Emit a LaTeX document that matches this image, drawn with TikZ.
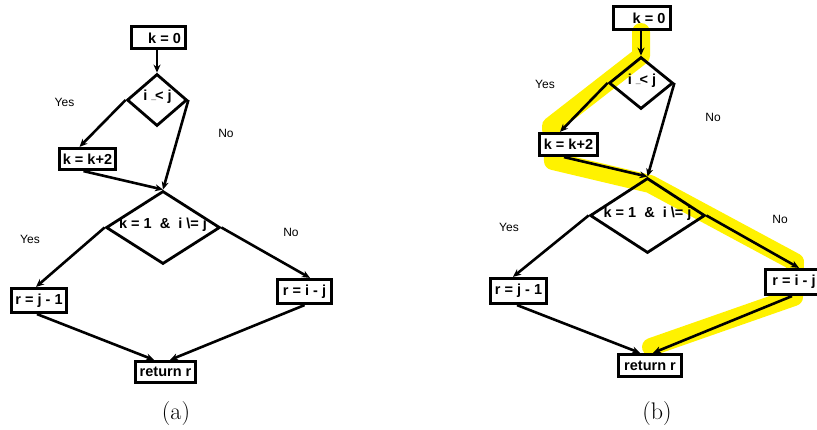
\documentclass[tikz,border=0pt]{standalone}
\usepackage{fontspec}
\usepackage{graphicx}
\newfontfamily\arialf{Liberation Sans}
\usetikzlibrary{arrows.meta,shapes.geometric}
\newcommand\ilesym{i\ \raisebox{1pt}{\scalebox{0.6}{\_}}\kern-1pt<\ j}
\newcommand\condsym{k = 1 \ \& \ i \textbackslash{}= j}
\tikzset{
  box/.style={draw=black, line width=3.2pt, fill=white, inner sep=0pt},
  dia/.style={diamond, draw=black, line width=2.8pt, inner sep=0pt},
  btxt/.style={font=\arialf\bfseries\fontsize{14.5}{16}\selectfont, inner sep=0pt},
  lbl/.style={font=\arialf\fontsize{12}{14}\selectfont, inner sep=0pt},
  captxt/.style={font=\fontsize{24}{28}\selectfont, inner sep=0pt, anchor=base},
  arr/.style={-{Stealth[length=8pt,width=7pt]}, line width=2.6pt},
  hl/.style={line width=18pt, draw=yellow, line cap=round, line join=round}
}
\begin{document}
\begin{tikzpicture}[x=1pt,y=-1pt]
\useasboundingbox (0,0) rectangle (817,429);
% highlight (b)
\draw[hl] (641,32) -- (641,56) -- (551,126) -- (553,161) -- (650,184) -- (795,262) -- (794,297) -- (651,347);

% ---------- (a) ----------
\node[box, fill=none, minimum width=54pt, minimum height=22pt] (k0a) at (158.5,37.5) {};
\node[btxt] (k0at) at (164.5,38) {k = 0};
\node[dia, minimum width=60pt, minimum height=52pt] (d1a) at (157,100) {};
\node[btxt] (d1at) at (157.5,97) {\ilesym};
\node[box, btxt, minimum width=56pt, minimum height=21pt] (kk2a) at (87.5,159) {k = k+2};
\node[dia, minimum width=114pt, minimum height=73pt] (d2a) at (163,227.5) {};
\node[btxt] (d2at) at (163,225) {\condsym};
\node[box, btxt, minimum width=55pt, minimum height=24pt] (rj1a) at (39,300.5) {r = j - 1};
\node[box, btxt, minimum width=54pt, minimum height=24pt] (rija) at (304.5,291.5) {r = i - j};
\node[box, btxt, minimum width=60pt, minimum height=21pt] (reta) at (165.5,372) {return r};
\node[lbl] (ya1) at (64.5,102) {Yes};
\node[lbl] (na1) at (226,133) {No};
\node[lbl] (ya2) at (30,239) {Yes};
\node[lbl] (na2) at (291,232) {No};
\node[captxt] (capa) at (176,419) {(a)};

\draw[arr] (k0a.south -| d1a.north) -- (d1a.north);
\draw[arr] (d1a.west) -- ([xshift=-8pt]kk2a.north);
\draw[arr] (d1a.east) -- (d2a.north);
\draw[arr] ([xshift=-4pt]kk2a.south) -- (d2a.north);
\draw[arr] (d2a.west) -- ([xshift=-3pt]rj1a.north);
\draw[arr] (d2a.east) -- ([xshift=5.5pt]rija.north);
\draw[arr] ([xshift=-2pt]rj1a.south) -- ([xshift=-11.5pt]reta.north);
\draw[arr] (rija.south) -- ([xshift=4.5pt]reta.north);

% ---------- (b) ----------
\node[box, fill=none, minimum width=57pt, minimum height=23pt] (k0b) at (642,18) {};
\node[btxt] (k0bt) at (649,18) {k = 0};
\node[dia, minimum width=64pt, minimum height=52pt] (d1b) at (641,83) {};
\node[btxt] (d1bt) at (642,81) {\ilesym};
\node[box, btxt, minimum width=58pt, minimum height=22pt] (kk2b) at (568.5,144.5) {k = k+2};
\node[dia, minimum width=115pt, minimum height=75pt] (d2b) at (647.5,215.5) {};
\node[btxt] (d2bt) at (647.5,214) {\condsym};
\node[box, btxt, minimum width=56pt, minimum height=25pt] (rj1b) at (518.5,291) {r = j - 1};
\node[box, btxt, minimum width=57pt, minimum height=25pt] (rijb) at (794,282) {r = i - j};
\node[box, btxt, minimum width=63pt, minimum height=22pt] (retb) at (650,365.5) {return r};
\node[lbl] (yb1) at (545,84) {Yes};
\node[lbl] (nb1) at (713,117) {No};
\node[lbl] (yb2) at (509,227) {Yes};
\node[lbl] (nb2) at (780,219) {No};
\node[captxt] (capb) at (657,419) {(b)};

\draw[arr] (k0b.south -| d1b.north) -- (d1b.north);
\draw[arr] (d1b.west) -- ([xshift=-8.5pt]kk2b.north);
\draw[arr] (d1b.east) -- (d2b.north);
\draw[arr] ([xshift=-4.5pt]kk2b.south) -- (d2b.north);
\draw[arr] (d2b.west) -- ([xshift=-5.5pt]rj1b.north);
\draw[arr] (d2b.east) -- ([xshift=5pt]rijb.north);
\draw[arr] ([xshift=-1.5pt]rj1b.south) -- ([xshift=-10pt]retb.north);
\draw[arr] ([xshift=-2pt]rijb.south) -- ([xshift=3pt]retb.north);
\end{tikzpicture}
\end{document}
